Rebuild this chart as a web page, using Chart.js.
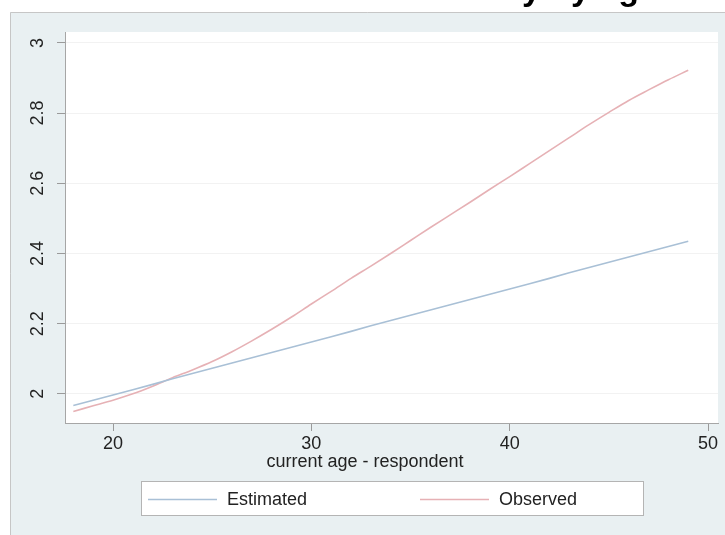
<!DOCTYPE html>
<html>
<head>
<meta charset="utf-8">
<script src="https://cdn.jsdelivr.net/npm/chart.js@4.4.1/dist/chart.umd.min.js"></script>
<style>
  html, body { margin: 0; padding: 0; background: #ffffff; }
  #chart { display: block; }
</style>
</head>
<body>
<canvas id="chart" width="725" height="535"></canvas>
<script>
// data
const ages = [18, 19, 20, 21, 22, 23, 24, 25, 26, 27, 28, 29, 30, 31, 32, 33,
              34, 35, 36, 37, 38, 39, 40, 41, 42, 43, 44, 45, 46, 47, 48, 49];
const estimated = [1.967, 1.982, 1.997, 2.012, 2.027, 2.043, 2.058, 2.073, 2.088, 2.103, 2.118, 2.133, 2.148, 2.163, 2.178, 2.194,
                   2.209, 2.224, 2.239, 2.254, 2.269, 2.284, 2.299, 2.314, 2.329, 2.345, 2.360, 2.375, 2.390, 2.405, 2.420, 2.435];
const observed = [1.950, 1.966, 1.982, 2.000, 2.022, 2.046, 2.068, 2.092, 2.120, 2.151, 2.184, 2.219, 2.256, 2.292, 2.329, 2.364,
                  2.400, 2.437, 2.474, 2.510, 2.546, 2.583, 2.619, 2.656, 2.693, 2.730, 2.767, 2.802, 2.836, 2.866, 2.895, 2.922];
const seriesNames = ['Estimated', 'Observed'];
const xTicks = [20, 30, 40, 50];
const yTicks = [2, 2.2, 2.4, 2.6, 2.8, 3];
const yTickLabels = ['2', '2.2', '2.4', '2.6', '2.8', '3'];
const xTitle = 'current age - respondent';
const titleText = 'Fertility by age';

const FONT = "'Liberation Sans', Arial, sans-serif";
const BG = '#e9f0f2';
const colors = ['#a9c0d6', '#e6b1b5'];

// background, frame, white plot region
const backgroundPlugin = {
  id: 'stataBackground',
  beforeDraw(chart) {
    const ctx = chart.ctx;
    const a = chart.chartArea;
    ctx.save();
    ctx.fillStyle = '#ffffff';
    ctx.fillRect(0, 0, chart.width, chart.height);
    ctx.fillStyle = BG;
    ctx.fillRect(10, 12, chart.width - 10, chart.height - 12);
    ctx.strokeStyle = '#c6c6c6';
    ctx.lineWidth = 1;
    ctx.beginPath();
    ctx.moveTo(10.5, chart.height);
    ctx.lineTo(10.5, 12.5);
    ctx.lineTo(chart.width, 12.5);
    ctx.stroke();
    ctx.fillStyle = '#ffffff';
    ctx.fillRect(a.left, a.top, a.right - a.left, a.bottom - a.top);
    ctx.restore();
  }
};

// rotated y labels, axis title, legend box and the clipped title
const extrasPlugin = {
  id: 'stataExtras',
  afterDraw(chart) {
    const ctx = chart.ctx;
    const y = chart.scales.y;
    ctx.save();
    ctx.fillStyle = '#222222';
    ctx.font = '18px ' + FONT;
    ctx.textAlign = 'center';
    ctx.textBaseline = 'middle';
    yTicks.forEach((v, i) => {
      ctx.save();
      ctx.translate(38, y.getPixelForValue(v));
      ctx.rotate(-Math.PI / 2);
      ctx.fillText(yTickLabels[i], 0, 0);
      ctx.restore();
    });

    // x axis title
    ctx.font = '18px ' + FONT;
    ctx.fillText(xTitle, 365, 462);

    // legend
    ctx.fillStyle = '#ffffff';
    ctx.fillRect(141, 481, 502, 34);
    ctx.strokeStyle = '#b4b4b4';
    ctx.lineWidth = 1;
    ctx.strokeRect(141.5, 481.5, 502, 34);
    const starts = [148, 420];
    chart.data.datasets.forEach((ds, i) => {
      ctx.strokeStyle = ds.borderColor;
      ctx.lineWidth = 1.6;
      ctx.beginPath();
      ctx.moveTo(starts[i], 499.5);
      ctx.lineTo(starts[i] + 69, 499.5);
      ctx.stroke();
      ctx.fillStyle = '#222222';
      ctx.textAlign = 'left';
      ctx.fillText(ds.label, starts[i] + 79, 500);
    });

    // title, only its descenders show above the frame
    ctx.fillStyle = '#000000';
    ctx.font = 'bold 34px ' + FONT;
    ctx.textAlign = 'right';
    ctx.textBaseline = 'alphabetic';
    ctx.fillText(titleText, 658, 0);
    ctx.restore();
  }
};

const ctx = document.getElementById('chart').getContext('2d');
const chart = new Chart(ctx, {
  type: 'line',
  data: {
    datasets: [
      {
        label: seriesNames[0],
        data: ages.map((a, i) => ({ x: a, y: estimated[i] })),
        borderColor: colors[0],
        borderWidth: 1.6,
        pointRadius: 0,
        tension: 0
      },
      {
        label: seriesNames[1],
        data: ages.map((a, i) => ({ x: a, y: observed[i] })),
        borderColor: colors[1],
        borderWidth: 1.6,
        pointRadius: 0,
        cubicInterpolationMode: 'monotone'
      }
    ]
  },
  options: {
    responsive: false,
    animation: false,
    devicePixelRatio: 1,
    layout: { padding: { left: 10, top: 32, right: 7, bottom: 0 } },
    plugins: {
      legend: { display: false },
      tooltip: { enabled: false }
    },
    scales: {
      x: {
        type: 'linear',
        min: 17.58,
        max: 50.5,
        afterBuildTicks: (s) => { s.ticks = xTicks.map(v => ({ value: v })); },
        afterFit: (s) => { s.height = 112; },
        ticks: {
          color: '#222222',
          font: { family: FONT, size: 18 },
          padding: 2,
          maxRotation: 0,
          callback: (v) => String(v)
        },
        grid: {
          drawOnChartArea: false,
          drawTicks: true,
          tickLength: 8,
          tickColor: '#9a9a9a'
        },
        border: { display: true, color: '#a6a6a6', width: 1 }
      },
      y: {
        type: 'linear',
        min: 1.917,
        max: 3.031,
        afterBuildTicks: (s) => { s.ticks = yTicks.map(v => ({ value: v })); },
        afterFit: (s) => { s.width = 55; },
        ticks: { display: false },
        grid: {
          color: '#f2f2f2',
          lineWidth: 1,
          drawTicks: true,
          tickLength: 8,
          tickColor: '#9a9a9a'
        },
        border: { display: true, color: '#a6a6a6', width: 1 }
      }
    }
  },
  plugins: [backgroundPlugin, extrasPlugin]
});
</script>
</body>
</html>
